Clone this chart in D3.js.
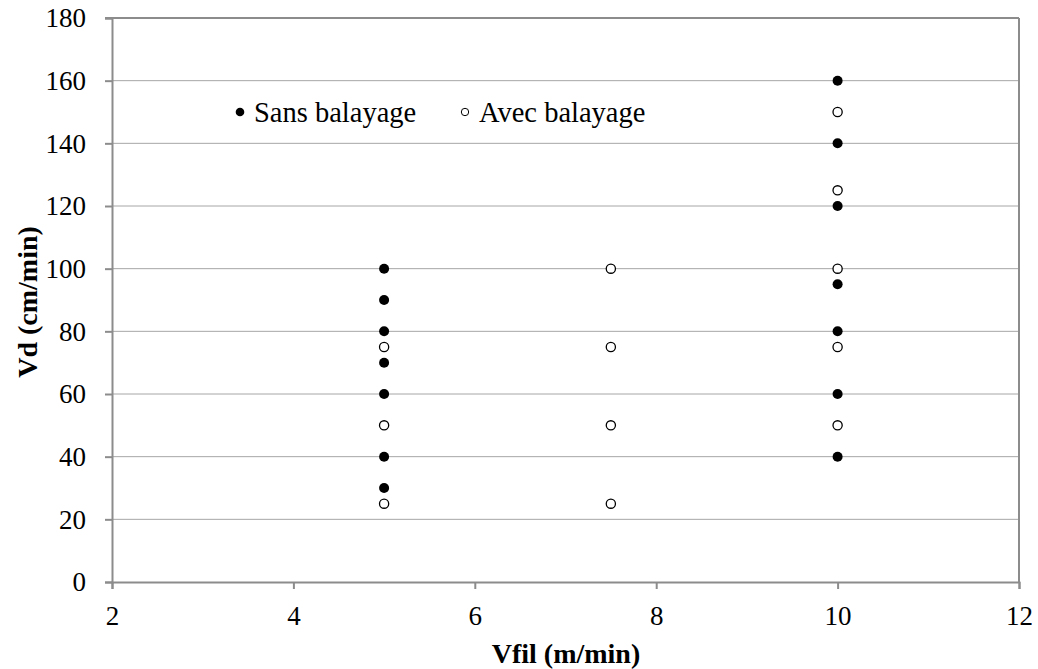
<!DOCTYPE html>
<html>
<head>
<meta charset="utf-8">
<script src="https://cdn.jsdelivr.net/npm/d3@7"></script>
<style>
  body { margin: 0; background: #fff; }
  svg text { font-family: "Liberation Serif", Tinos, "Times New Roman", serif; fill: #000; }
</style>
</head>
<body>
<script>
// data
const sansX = [5, 5, 5, 5, 5, 5, 5, 10, 10, 10, 10, 10, 10, 10];
const sansY = [100, 90, 80, 70, 60, 40, 30, 160, 140, 120, 95, 80, 60, 40];
const avecX = [5, 5, 5, 7.5, 7.5, 7.5, 7.5, 10, 10, 10, 10, 10];
const avecY = [75, 50, 25, 100, 75, 50, 25, 150, 125, 100, 75, 50];
const xTicks = [2, 4, 6, 8, 10, 12];
const yTicks = [0, 20, 40, 60, 80, 100, 120, 140, 160, 180];
const seriesNames = ["Sans balayage", "Avec balayage"];

const width = 1038, height = 669;
const margin = { left: 112, right: 19, top: 18, bottom: 87 };

const svg = d3.select("body").append("svg")
    .attr("width", width)
    .attr("height", height);

const x = d3.scaleLinear().domain([2, 12]).range([margin.left, width - margin.right]);
const y = d3.scaleLinear().domain([0, 180]).range([height - margin.bottom, margin.top]);

// gridlines
svg.append("g")
    .selectAll("line")
    .data(yTicks.slice(1))
    .enter().append("line")
    .attr("x1", x(2)).attr("x2", x(12))
    .attr("y1", d => y(d)).attr("y2", d => y(d))
    .attr("stroke", "#a6a6a6")
    .attr("stroke-width", 1);

// right border
svg.append("line")
    .attr("x1", x(12)).attr("x2", x(12))
    .attr("y1", y(180)).attr("y2", y(0))
    .attr("stroke", "#8c8c8c").attr("stroke-width", 2);
// top border
svg.append("line")
    .attr("x1", x(2) - 7).attr("x2", x(12))
    .attr("y1", y(180)).attr("y2", y(180))
    .attr("stroke", "#8c8c8c").attr("stroke-width", 2);

const xAxis = svg.append("g")
    .attr("transform", `translate(0,${y(0)})`)
    .call(d3.axisBottom(x).tickValues(xTicks).tickSize(7).tickPadding(36));
const yAxis = svg.append("g")
    .attr("transform", `translate(${x(2)},0)`)
    .call(d3.axisLeft(y).tickValues(yTicks).tickSize(7).tickPadding(19));

[xAxis, yAxis].forEach(g => {
  g.attr("font-family", null);
  g.select(".domain").attr("stroke", "#8c8c8c").attr("stroke-width", 2);
  g.selectAll(".tick line").attr("stroke", "#8c8c8c").attr("stroke-width", 2);
  g.selectAll("text").style("font-size", "27px");
});
xAxis.selectAll("text").attr("dy", "0");
yAxis.selectAll("text").attr("dy", "0.33em");

// points
svg.append("g").selectAll("circle")
    .data(sansX.map((d, i) => [d, sansY[i]]))
    .enter().append("circle")
    .attr("cx", d => x(d[0])).attr("cy", d => y(d[1]))
    .attr("r", 5).attr("fill", "#000");

svg.append("g").selectAll("circle")
    .data(avecX.map((d, i) => [d, avecY[i]]))
    .enter().append("circle")
    .attr("cx", d => x(d[0])).attr("cy", d => y(d[1]))
    .attr("r", 4.6).attr("fill", "#fff")
    .attr("stroke", "#000").attr("stroke-width", 1.3);

// legend
const legend = svg.append("g");
legend.append("circle").attr("cx", 240).attr("cy", 112).attr("r", 4.3).attr("fill", "#000");
legend.append("text").attr("x", 254).attr("y", 122).style("font-size", "28.5px").text(seriesNames[0]);
legend.append("circle").attr("cx", 465).attr("cy", 112).attr("r", 3.7)
    .attr("fill", "#fff").attr("stroke", "#000").attr("stroke-width", 1);
legend.append("text").attr("x", 479).attr("y", 122).style("font-size", "28.5px").text(seriesNames[1]);

// axis titles
svg.append("text")
    .attr("x", 566).attr("y", 663)
    .attr("text-anchor", "middle")
    .style("font-size", "28px").style("font-weight", "bold")
    .text("Vfil (m/min)");
svg.append("text")
    .attr("transform", "translate(37,302) rotate(-90)")
    .attr("text-anchor", "middle")
    .style("font-size", "28px").style("font-weight", "bold")
    .text("Vd (cm/min)");
</script>
</body>
</html>
